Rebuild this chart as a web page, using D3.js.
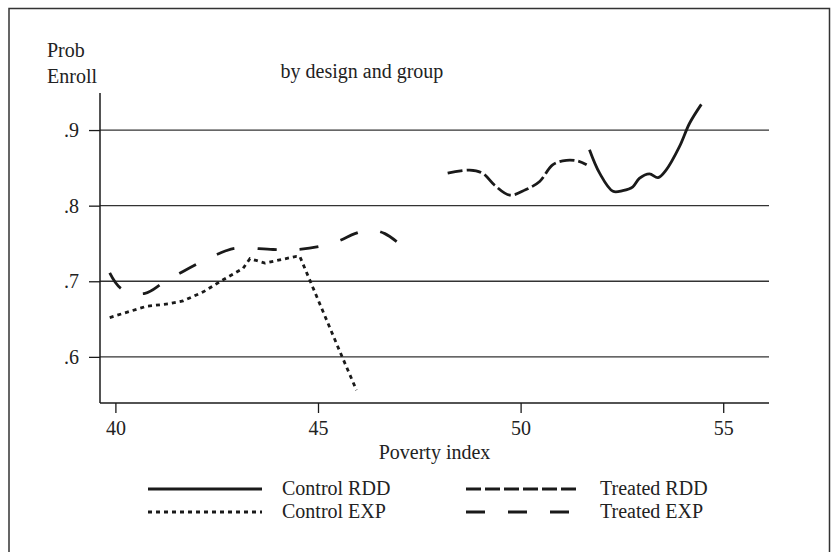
<!DOCTYPE html>
<html>
<head>
<meta charset="utf-8">
<script src="https://cdn.jsdelivr.net/npm/d3@7"></script>
<style>
  html, body { margin: 0; padding: 0; background: #fff; }
  svg { display: block; }
  text { font-family: "Liberation Serif", "DejaVu Serif", serif; fill: #222; }
</style>
</head>
<body>
<svg id="chart" width="831" height="552"></svg>
<script>
// ---- Data ----
const controlRddX = [51.70, 51.95, 52.28, 52.52, 52.77, 52.93, 53.18, 53.39, 53.59, 53.92, 54.17, 54.46];
const controlRddY = [0.874, 0.843, 0.819, 0.820, 0.825, 0.836, 0.842, 0.837, 0.847, 0.878, 0.909, 0.934];

const treatedRddX = [48.20, 48.74, 49.06, 49.36, 49.73, 50.12, 50.47, 50.79, 51.13, 51.41, 51.63];
const treatedRddY = [0.843, 0.847, 0.843, 0.827, 0.814, 0.821, 0.832, 0.854, 0.860, 0.859, 0.854];

const controlExpX = [39.86, 40.77, 41.30, 41.67, 42.17, 42.66, 43.15, 43.32, 43.69, 44.47, 44.55, 45.54, 45.95];
const controlExpY = [0.652, 0.667, 0.670, 0.674, 0.686, 0.702, 0.717, 0.730, 0.724, 0.733, 0.733, 0.607, 0.556];

const treatedExpX = [39.86, 40.15, 40.73, 41.18, 41.67, 42.17, 42.71, 42.99, 43.89, 44.47, 45.04, 45.54, 45.91, 46.28, 46.65, 47.02];
const treatedExpY = [0.711, 0.690, 0.684, 0.698, 0.713, 0.727, 0.740, 0.744, 0.742, 0.742, 0.746, 0.754, 0.763, 0.768, 0.763, 0.749];

const xTicks = [40, 45, 50, 55];
const yTicks = [0.6, 0.7, 0.8, 0.9];
const yTickLabels = [".6", ".7", ".8", ".9"];

const seriesNames = ["Control RDD", "Treated RDD", "Control EXP", "Treated EXP"];
const titleText = "by design and group";
const xLabel = "Poverty index";
const yLabelLines = ["Prob", "Enroll"];

// ---- Layout ----
const svg = d3.select("#chart");
const plot = { left: 100, right: 769, top: 93, bottom: 403 };
const x = d3.scaleLinear().domain([39.62, 56.13]).range([plot.left, plot.right]);
const y = d3.scaleLinear().domain([0.539, 0.949]).range([plot.bottom, plot.top]);

const FS = 20;
const ink = "#1a1a1a";

// outer frame
svg.append("path")
  .attr("d", "M9,560 L9,8.5 L829.5,8.5 L829.5,560")
  .attr("fill", "none").attr("stroke", "#333").attr("stroke-width", 1.5);

// gridlines
svg.append("g").selectAll("line").data(yTicks).join("line")
  .attr("x1", plot.left).attr("x2", plot.right)
  .attr("y1", d => y(d)).attr("y2", d => y(d))
  .attr("stroke", "#333").attr("stroke-width", 1.3);

// y axis
const yAxis = d3.axisLeft(y).tickValues(yTicks).tickFormat((d, i) => yTickLabels[i])
  .tickSize(11).tickPadding(10);
const gy = svg.append("g").attr("transform", `translate(${plot.left},0)`).call(yAxis);
gy.select(".domain").attr("d", `M0,${plot.top}V${plot.bottom}`).attr("stroke", ink).attr("stroke-width", 1.5);
gy.selectAll(".tick line").attr("stroke", ink).attr("stroke-width", 1.3);
gy.selectAll(".tick text").attr("font-size", FS).attr("font-family", "Liberation Serif").attr("fill", "#222");

// x axis
const xAxis = d3.axisBottom(x).tickValues(xTicks).tickFormat(d3.format("d"))
  .tickSize(10).tickPadding(8);
const gx = svg.append("g").attr("transform", `translate(0,${plot.bottom})`).call(xAxis);
gx.select(".domain").attr("d", `M${plot.left},0H${plot.right}`).attr("stroke", ink).attr("stroke-width", 1.5);
gx.selectAll(".tick line").attr("stroke", ink).attr("stroke-width", 1.3);
gx.selectAll(".tick text").attr("font-size", FS).attr("font-family", "Liberation Serif").attr("fill", "#222");

// labels
svg.append("text").attr("x", 362).attr("y", 78).attr("text-anchor", "middle")
  .attr("font-size", FS).text(titleText);
svg.append("text").attr("x", (plot.left + plot.right) / 2).attr("y", 459).attr("text-anchor", "middle")
  .attr("font-size", FS).text(xLabel);
yLabelLines.forEach((t, i) => {
  svg.append("text").attr("x", 47).attr("y", 57 + i * 26).attr("font-size", FS).text(t);
});

// series
const styles = [
  { dash: null },
  { dash: "15,4" },
  { dash: "4,4" },
  { dash: "19,23" }
];
const seriesData = [
  controlRddX.map((d, i) => [d, controlRddY[i]]),
  treatedRddX.map((d, i) => [d, treatedRddY[i]]),
  controlExpX.map((d, i) => [d, controlExpY[i]]),
  treatedExpX.map((d, i) => [d, treatedExpY[i]])
];
const line = d3.line().x(d => x(d[0])).y(d => y(d[1])).curve(d3.curveCatmullRom.alpha(0.5));
seriesData.forEach((data, i) => {
  svg.append("path").datum(data)
    .attr("d", i === 2 ? d3.line().x(d => x(d[0])).y(d => y(d[1]))(data) : line(data))
    .attr("fill", "none").attr("stroke", ink).attr("stroke-width", 2.8)
    .attr("stroke-dasharray", styles[i].dash);
});

// legend
const legendPos = [
  { lx: 148, ly: 489 }, { lx: 466, ly: 489 },
  { lx: 148, ly: 512 }, { lx: 466, ly: 512 }
];
seriesNames.forEach((name, i) => {
  const p = legendPos[i];
  svg.append("line").attr("x1", p.lx).attr("x2", p.lx + 114).attr("y1", p.ly).attr("y2", p.ly)
    .attr("stroke", ink).attr("stroke-width", 2.8).attr("stroke-dasharray", styles[i].dash);
  svg.append("text").attr("x", p.lx + 134).attr("y", p.ly + 6).attr("font-size", FS).text(name);
});
</script>
</body>
</html>
